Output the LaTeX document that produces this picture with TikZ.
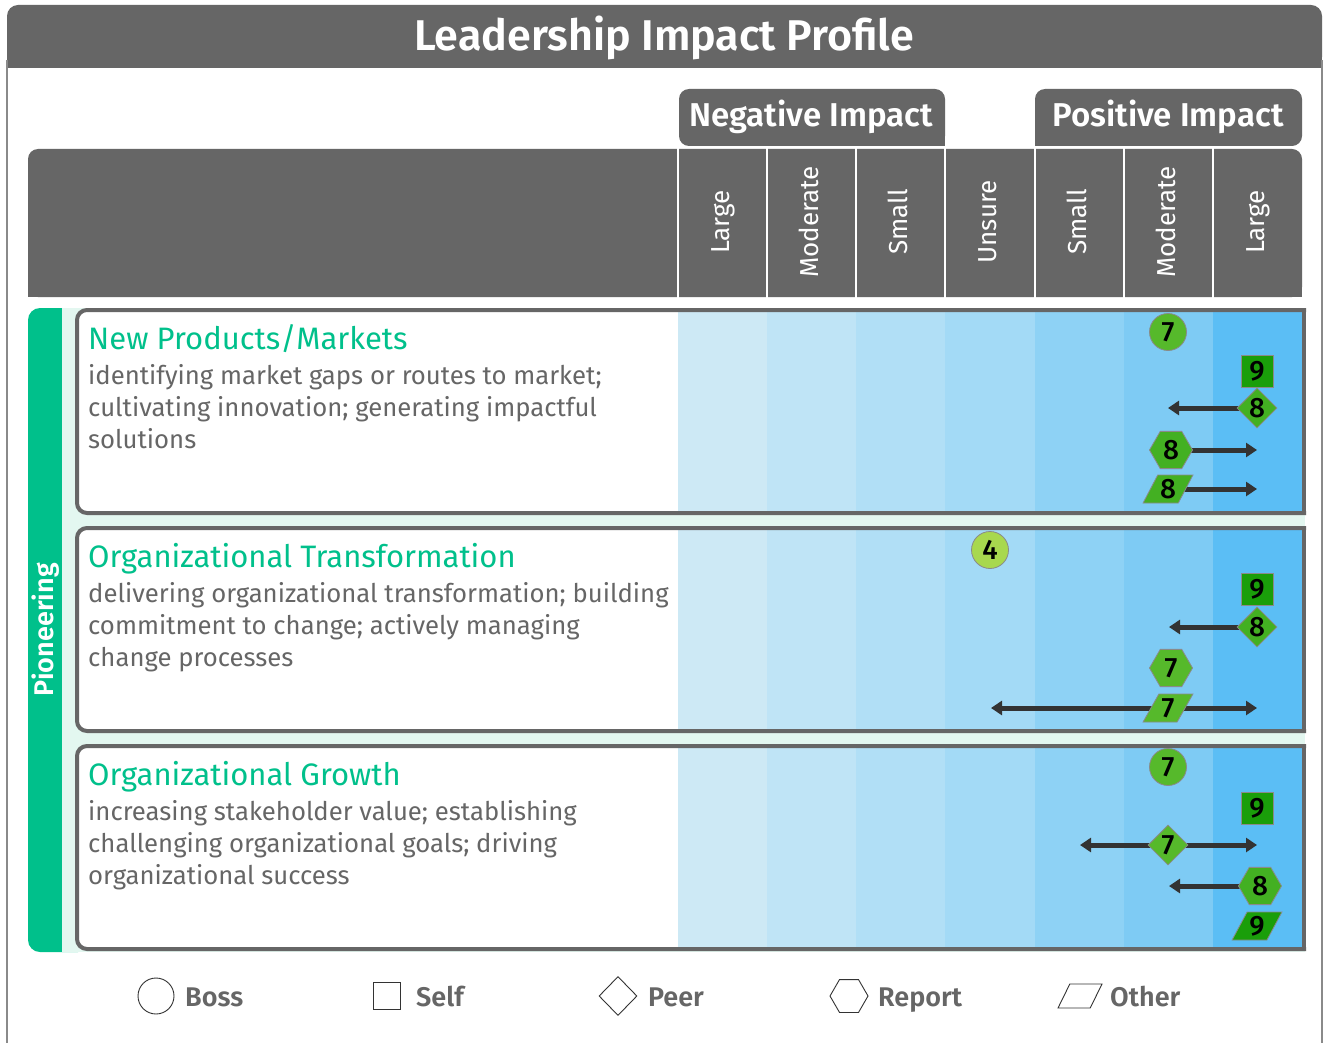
\documentclass[tikz,border=0pt]{standalone}
\usepackage{fontspec}
\setmainfont{Fira Sans}
\newfontfamily\mkfont{Fira Sans Medium}
\newfontfamily\sbfont{Fira Sans SemiBold}
\usetikzlibrary{shapes.geometric,arrows.meta}
\pgfdeclarelayer{back}
\pgfdeclarelayer{mid}
\pgfsetlayers{back,mid,main}
\definecolor{hdr}{HTML}{666666}
\definecolor{frameline}{HTML}{8A8A8A}
\definecolor{teal}{HTML}{00C08B}
\definecolor{mint}{HTML}{E3F7F0}
\definecolor{txtgray}{HTML}{666666}
\definecolor{cA}{HTML}{CDE9F5}
\definecolor{cB}{HTML}{BFE4F6}
\definecolor{cC}{HTML}{B1DFF6}
\definecolor{cD}{HTML}{A3DAF6}
\definecolor{cE}{HTML}{8ED2F5}
\definecolor{cF}{HTML}{7ECBF4}
\definecolor{cG}{HTML}{5BBEF5}
\definecolor{gnine}{HTML}{1A9E0A}
\definecolor{geight}{HTML}{43B022}
\definecolor{gseven}{HTML}{56B92B}
\definecolor{gfour}{HTML}{A8D84E}
\definecolor{mkline}{HTML}{8A8A8A}
\definecolor{arrc}{HTML}{333333}
\newcommand\fsz[2]{\fontsize{#1}{#2}\selectfont}
\tikzset{
  mk/.style={draw=mkline, line width=0.8pt, inner sep=0pt, font=\mkfont\fsz{28}{28}, text=black},
  boss/.style={mk, circle, minimum size=37pt},
  selfm/.style={mk, rectangle, minimum size=32pt},
  peer/.style={mk, diamond, minimum width=40pt, minimum height=40pt},
  report/.style={mk, regular polygon, regular polygon sides=6, minimum size=43pt},
  other/.style={mk, trapezium, trapezium left angle=60, trapezium right angle=120, trapezium stretches=true, minimum width=50pt, minimum height=28pt},
  vnine/.style={fill=gnine}, veight/.style={fill=geight}, vseven/.style={fill=gseven}, vfour/.style={fill=gfour},
  arr/.style={draw=arrc, line width=5pt, -{Triangle[length=11pt,width=14pt]}},
  darr/.style={draw=arrc, line width=5pt, {Triangle[length=11pt,width=14pt]}-{Triangle[length=11pt,width=14pt]}},
  lg/.style={draw=black!80, line width=0.9pt, fill=white, inner sep=2pt},
  lgtext/.style={anchor=base west, inner sep=0pt, text=txtgray, font=\sbfont\fsz{27}{27}},
  collab/.style={rotate=90, anchor=base, inner sep=0pt, text=white, font=\fsz{26}{26}},
  rtitle/.style={anchor=base west, inner sep=0pt, text=teal, font=\fsz{31}{31}},
  rdesc/.style={anchor=base west, inner sep=0pt, text=txtgray},
  imp/.style={anchor=base, inner sep=0pt, text=white, font=\sbfont\fsz{33}{33}},
}
\begin{document}
\begin{tikzpicture}[x=1pt,y=-1pt]
\useasboundingbox (0,0) rectangle (1324,1043);
\begin{pgfonlayer}{back}
\fill[white] (0,0) rectangle (1324,1043);
% title bar
\fill[hdr, rounded corners=11pt] (7,5) rectangle (1322,68);
\fill[hdr] (7,40) rectangle (1322,68);
\draw[frameline, line width=1.5pt] (7,60) -- (7,1043);
\draw[frameline, line width=1.5pt] (1322,60) -- (1322,1043);
% impact boxes
\fill[hdr, rounded corners=10pt] (679,89) rectangle (945,146);
\fill[hdr] (920,120) rectangle (945,146);
\fill[hdr, rounded corners=10pt] (1035,89) rectangle (1302,146);
\fill[hdr] (1035,120) rectangle (1060,146);
% header
\fill[hdr, rounded corners=10pt] (28,149) rectangle (1302,297);
\fill[hdr] (28,200) rectangle (1302,297);
\fill[hdr] (60,149) rectangle (1280,297);
\foreach \xx in {677.5,767,856,945,1035,1124,1213}
  \draw[white, line width=2pt] (\xx,147) -- (\xx,298);
% sidebar and mint
\fill[teal, rounded corners=12pt] (28,308) rectangle (90,952);
\fill[mint] (62,308) rectangle (1305,952);
% rows
\foreach \T in {310,528,746}{
  \begin{scope}
    \clip (0,0) rectangle (1302,1043);
    \fill[white, rounded corners=10pt] (77,\T) rectangle (1330,\T+203);
  \end{scope}
  \fill[cA] (678,\T) rectangle (767,\T+203);
  \fill[cB] (767,\T) rectangle (856,\T+203);
  \fill[cC] (856,\T) rectangle (945,\T+203);
  \fill[cD] (945,\T) rectangle (1035,\T+203);
  \fill[cE] (1035,\T) rectangle (1124,\T+203);
  \fill[cF] (1124,\T) rectangle (1213,\T+203);
  \fill[cG] (1213,\T) rectangle (1302,\T+203);
  \begin{scope}
    \clip (0,0) rectangle (1306,1043);
    \draw[hdr, line width=4pt, rounded corners=10pt] (77,\T) rectangle (1330,\T+203);
  \end{scope}
  \draw[hdr, line width=4pt] (1304,\T-2) -- (1304,\T+205);
}
\end{pgfonlayer}

% texts
\node[anchor=base, inner sep=0pt, text=white, font=\sbfont\fsz{43}{43}] (title) at (664,51) {Leadership Impact Profile};
\node[imp] (neg) at (811,127) {Negative Impact};
\node[imp] (pos) at (1168,127) {Positive Impact};
\node[collab] (h1) at (729,222) {Large};
\node[collab] (h2) at (818,222) {Moderate};
\node[collab] (h3) at (907,222) {Small};
\node[collab] (h4) at (996,222) {Unsure};
\node[collab] (h5) at (1086,222) {Small};
\node[collab] (h6) at (1175,222) {Moderate};
\node[collab] (h7) at (1264,222) {Large};
\node[rotate=90, anchor=base, inner sep=0pt, text=white, font=\sbfont\fsz{27}{27}] (pio) at (53,630) {Pioneering};

\node[rtitle] (t1) at (88,349) {New Products/Markets};
\node[rdesc] (d1) at (88,384) {\parbox[t]{590pt}{\fsz{25.7}{32}\raggedright identifying market gaps or routes to market;\\cultivating innovation; generating impactful\\solutions}};
\node[rtitle] (t2) at (88,567) {Organizational Transformation};
\node[rdesc] (d2) at (88,602) {\parbox[t]{590pt}{\fsz{25.7}{32}\raggedright delivering organizational transformation; building\\commitment to change; actively managing\\change processes}};
\node[rtitle] (t3) at (88,785) {Organizational Growth};
\node[rdesc] (d3) at (88,820) {\parbox[t]{590pt}{\fsz{25.7}{32}\raggedright increasing stakeholder value; establishing\\challenging organizational goals; driving\\organizational success}};

% row 1 markers
\node[boss, vseven] (r1b) at (1168,332) {7};
\node[selfm, vnine] (r1s) at (1257,371) {9};
\node[peer, veight] (r1p) at (1257,408) {8};
\node[report, veight] (r1r) at (1171,450) {8};
\node[other, veight] (r1o) at (1168,489) {8};
\coordinate (r1pe) at (1168,408);
\coordinate (r1re) at (1257,450);
\coordinate (r1oe) at (1257,489);
% row 2 markers
\node[boss, vfour] (r2b) at (990,550) {4};
\node[selfm, vnine] (r2s) at (1257,589) {9};
\node[peer, veight] (r2p) at (1257,627) {8};
\node[report, vseven] (r2r) at (1171,668) {7};
\node[other, vseven] (r2o) at (1168,708) {7};
\coordinate (r2pe) at (1169,627);
\coordinate (r2oa) at (991,708);
\coordinate (r2ob) at (1257,708);
% row 3 markers
\node[boss, vseven] (r3b) at (1168,767) {7};
\node[selfm, vnine] (r3s) at (1257,808) {9};
\node[peer, vseven] (r3p) at (1168,845) {7};
\node[report, veight] (r3r) at (1260,886) {8};
\node[other, vnine] (r3o) at (1257,926) {9};
\coordinate (r3pa) at (1080,845);
\coordinate (r3pb) at (1257,845);
\coordinate (r3re) at (1169,886);

\begin{pgfonlayer}{mid}
\draw[arr] (r1p.center) -- (r1pe);
\draw[arr] (r1r.center) -- (r1re);
\draw[arr] (r1o.center) -- (r1oe);
\draw[arr] (r2p.center) -- (r2pe);
\draw[darr] (r2oa) -- (r2ob);
\draw[darr] (r3pa) -- (r3pb);
\draw[arr] (r3r.center) -- (r3re);
\end{pgfonlayer}

% legend
\node[lg, circle, minimum size=36pt] (lboss) at (156,996) {};
\node[lgtext] (lbosst) at (185,1006) {Boss};
\node[lg, rectangle, minimum size=27pt] (lself) at (387,996) {};
\node[lgtext] (lselft) at (416,1006) {Self};
\node[lg, diamond, minimum width=38pt, minimum height=39pt] (lpeer) at (618,996) {};
\node[lgtext] (lpeert) at (648,1006) {Peer};
\node[lg, regular polygon, regular polygon sides=6, minimum size=38pt] (lrep) at (849,996) {};
\node[lgtext] (lrept) at (878,1006) {Report};
\node[lg, trapezium, trapezium left angle=60, trapezium right angle=120, trapezium stretches=true, minimum width=44pt, minimum height=24pt] (loth) at (1080,996) {};
\node[lgtext] (lotht) at (1110,1006) {Other};
\end{tikzpicture}
\end{document}
